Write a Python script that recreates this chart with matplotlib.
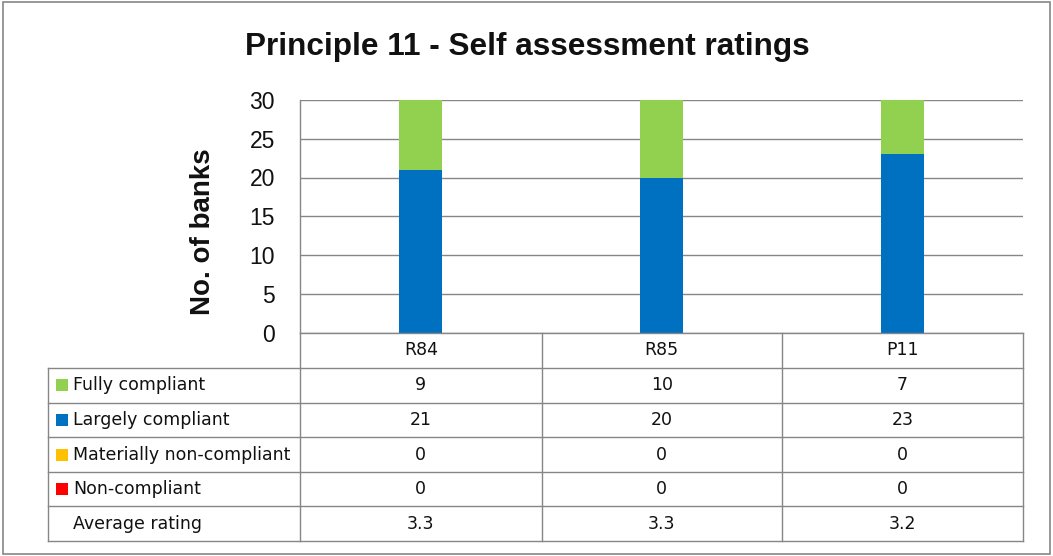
import matplotlib.pyplot as plt
import numpy as np
from matplotlib.patches import Rectangle
from matplotlib import font_manager

# data
categories = ["R84", "R85", "P11"]
fully = [9, 10, 7]
largely = [21, 20, 23]
materially = [0, 0, 0]
non_compliant = [0, 0, 0]
avg_rating = ["3.3", "3.3", "3.2"]
series_names = ["Fully compliant", "Largely compliant", "Materially non-compliant", "Non-compliant"]
series_colors = ["#92D050", "#0070C0", "#FFC000", "#FF0000"]
yticks = [0, 5, 10, 15, 20, 25, 30]

names = {f.name for f in font_manager.fontManager.ttflist}
narrow = "Liberation Sans Narrow" if "Liberation Sans Narrow" in names else "Liberation Sans"

W, H = 1053, 556
fig = plt.figure(figsize=(W / 100, H / 100), dpi=100)
grid_col = "#868686"

# plot area in pixels
ax_l, ax_r, ax_t, ax_b = 300, 1023, 100, 332.5
ax = fig.add_axes([ax_l / W, 1 - ax_b / H, (ax_r - ax_l) / W, (ax_b - ax_t) / H])
x = np.arange(len(categories))
bw = 0.18
bottom = np.zeros(len(categories))
for vals, col in [(non_compliant, series_colors[3]), (materially, series_colors[2]),
                  (largely, series_colors[1]), (fully, series_colors[0])]:
    ax.bar(x, vals, bw, bottom=bottom, color=col, zorder=3)
    bottom += np.array(vals)

ax.set_xlim(-0.5, len(categories) - 0.5)
ax.set_ylim(0, 30)
ax.set_yticks(yticks)
ax.set_yticklabels([str(t) for t in yticks], fontsize=16.5, family="Liberation Sans", color="#111111")
ax.tick_params(axis="y", length=0, pad=18)
ax.set_xticks([])
ax.grid(axis="y", color=grid_col, lw=1.0, zorder=0)
for s in ["top", "right", "bottom"]:
    ax.spines[s].set_visible(False)
ax.spines["left"].set_color(grid_col)
ax.spines["left"].set_linewidth(1.0)

# overlay in pixel coordinates for title, label and data table
ov = fig.add_axes([0, 0, 1, 1], zorder=5)
ov.set_xlim(0, W)
ov.set_ylim(H, 0)
ov.axis("off")
ov.patch.set_alpha(0)

ov.add_patch(Rectangle((3, 1.5), 1047, 552, fill=False, edgecolor=grid_col, lw=1.2))
title_size = 22.7 if narrow == "Liberation Sans" else 25
ov.text(W / 2 + 1, 47, "Principle 11 - Self assessment ratings", ha="center", va="center",
        fontsize=title_size, fontweight="bold", family=narrow, color="#111111")
ylab_size = 20 if narrow == "Liberation Sans" else 22
ov.text(203, 232, "No. of banks", rotation=90, ha="center", va="center",
        fontsize=ylab_size, fontweight="bold", family=narrow, color="#111111")

col_x = [ax_l, 541.5, 782, ax_r]
lab_l = 48
row_h = 34.6
head_b = 368
rows_y = [head_b + i * row_h for i in range(6)]
lc = dict(color=grid_col, lw=1.0)

ov.plot([ax_l, ax_r], [ax_b, ax_b], **lc)
for yy in rows_y:
    ov.plot([lab_l, ax_r], [yy, yy], **lc)
for xx in col_x:
    ov.plot([xx, xx], [ax_b, rows_y[-1]], **lc)
ov.plot([lab_l, lab_l], [head_b, rows_y[-1]], **lc)

tfont = dict(fontsize=12.5, family="DejaVu Sans", color="#111111")
centers = [(col_x[i] + col_x[i + 1]) / 2 for i in range(len(categories))]
for cx, cat in zip(centers, categories):
    ov.text(cx, (ax_b + head_b) / 2, cat, ha="center", va="center", **tfont)

row_labels = series_names + ["Average rating"]
row_vals = [fully, largely, materially, non_compliant, avg_rating]
for i, (lab, vals) in enumerate(zip(row_labels, row_vals)):
    cy = rows_y[i] + row_h / 2
    if i < len(series_colors):
        ov.add_patch(Rectangle((56, cy - 6), 12, 12, color=series_colors[i], lw=0))
    ov.text(73, cy, lab, ha="left", va="center", **tfont)
    for cx, v in zip(centers, vals):
        ov.text(cx, cy, str(v), ha="center", va="center", **tfont)

fig.savefig("out.png", dpi=100)
